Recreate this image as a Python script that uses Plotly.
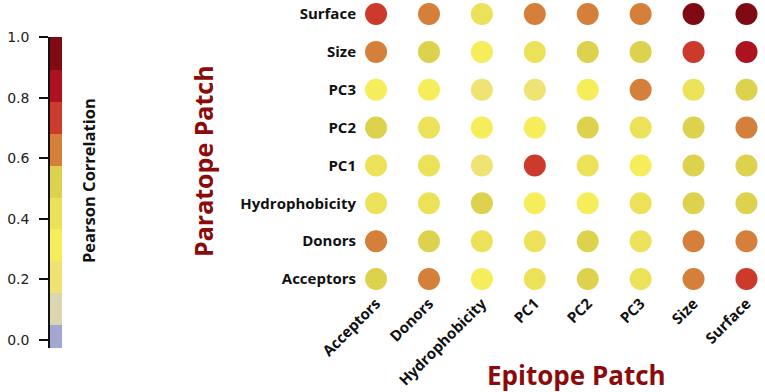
import plotly.graph_objects as go

W, H = 765, 392

epitope = ["Acceptors", "Donors", "Hydrophobicity", "PC1", "PC2", "PC3", "Size", "Surface"]
paratope = ["Acceptors", "Donors", "Hydrophobicity", "PC1", "PC2", "PC3", "Size", "Surface"]

# rows = paratope feature, columns = epitope feature (same order as `epitope`)
r_surface = [0.74, 0.63, 0.42, 0.64, 0.62, 0.63, 0.94, 0.93]
r_size = [0.64, 0.52, 0.32, 0.43, 0.53, 0.49, 0.73, 0.84]
r_pc3 = [0.33, 0.34, 0.24, 0.23, 0.31, 0.65, 0.42, 0.51]
r_pc2 = [0.52, 0.43, 0.33, 0.32, 0.54, 0.41, 0.50, 0.64]
r_pc1 = [0.41, 0.44, 0.22, 0.75, 0.43, 0.31, 0.51, 0.52]
r_hydro = [0.42, 0.43, 0.53, 0.33, 0.32, 0.44, 0.51, 0.50]
r_donors = [0.63, 0.52, 0.42, 0.43, 0.53, 0.41, 0.64, 0.62]
r_acceptors = [0.53, 0.64, 0.32, 0.44, 0.54, 0.43, 0.63, 0.76]

rows = {
    "Acceptors": r_acceptors,
    "Donors": r_donors,
    "Hydrophobicity": r_hydro,
    "PC1": r_pc1,
    "PC2": r_pc2,
    "PC3": r_pc3,
    "Size": r_size,
    "Surface": r_surface,
}

bin_edges = [-0.05, 0.05, 0.155, 0.26, 0.365, 0.47, 0.575, 0.68, 0.785, 0.89, 1.0]
bin_colors = ["#a3a6d0", "#dcd6b0", "#efe374", "#f6ed5a", "#ece259", "#dcd24e",
              "#d4803a", "#cc3a2b", "#ad1220", "#800a14"]
cbar_ticks = [0.0, 0.2, 0.4, 0.6, 0.8, 1.0]
cbar_ticktext = ["0.0", "0.2", "0.4", "0.6", "0.8", "1.0"]

cmin, cmax = bin_edges[0], bin_edges[-1]
colorscale = []
for i, c in enumerate(bin_colors):
    colorscale.append([(bin_edges[i] - cmin) / (cmax - cmin), c])
    colorscale.append([(bin_edges[i + 1] - cmin) / (cmax - cmin), c])

xs, ys, vs = [], [], []
for p in paratope:
    for j, e in enumerate(epitope):
        xs.append(e)
        ys.append(p)
        vs.append(rows[p][j])

fig = go.Figure()
fig.add_trace(go.Scatter(
    x=xs, y=ys, mode="markers",
    marker=dict(size=22, color=vs, colorscale=colorscale, cmin=cmin, cmax=cmax,
                showscale=False, line=dict(width=0)),
    xaxis="x", yaxis="y", hovertemplate="%{x} / %{y}: %{marker.color:.2f}<extra></extra>",
))

mids = [(bin_edges[i] + bin_edges[i + 1]) / 2 for i in range(len(bin_colors))]
fig.add_trace(go.Heatmap(
    x=[0, 1], y=bin_edges, z=[[m] for m in mids],
    colorscale=colorscale, zmin=cmin, zmax=cmax, showscale=False,
    xaxis="x2", yaxis="y2", hoverinfo="skip",
))

lab_font = dict(family="Open Sans", size=15, color="#111111", weight="bold")

fig.update_layout(
    width=W, height=H,
    margin=dict(l=0, r=0, t=0, b=0, autoexpand=False),
    paper_bgcolor="white", plot_bgcolor="white",
    showlegend=False,
    xaxis=dict(
        domain=[357 / W, 1.0], anchor="y", automargin=False,
        type="category", categoryorder="array", categoryarray=epitope,
        range=[-0.36, 7.35], showgrid=False, zeroline=False, showline=False,
        ticks="", tickangle=-45, tickfont=lab_font, ticklabelstandoff=-7,
    ),
    yaxis=dict(
        domain=[1 - 298 / H, 1.0], anchor="x", automargin=False,
        type="category", categoryorder="array", categoryarray=paratope,
        range=[-0.5, 7.37], showgrid=False, zeroline=False, showline=False,
        ticks="", tickfont=lab_font,
    ),
    xaxis2=dict(
        domain=[50 / W, 62 / W], anchor="y2", range=[0, 1], automargin=False,
        visible=False, fixedrange=True,
    ),
    yaxis2=dict(
        domain=[1 - 348 / H, 1 - 37 / H], anchor="x2", automargin=False,
        range=[-0.0264, 1.0], showgrid=False, zeroline=False,
        showline=True, linecolor="#111111", linewidth=1.5,
        ticks="outside", ticklen=9, tickwidth=1.5, tickcolor="#111111",
        tickvals=cbar_ticks, ticktext=cbar_ticktext, ticklabelstandoff=7,
        tickfont=dict(family="DejaVu Sans", size=14, color="#222222"),
    ),
    annotations=[
        dict(text="Paratope Patch", x=203 / W, y=1 - 161 / H, xref="paper", yref="paper",
             textangle=-90, showarrow=False, xanchor="center", yanchor="middle",
             font=dict(family="Open Sans", size=25, color="#8b0a0a", weight="bold")),
        dict(text="Epitope Patch", x=576 / W, y=1 - 375 / H, xref="paper", yref="paper",
             showarrow=False, xanchor="center", yanchor="middle",
             font=dict(family="Open Sans", size=26, color="#8b0a0a", weight="bold")),
        dict(text="Pearson Correlation", x=88 / W, y=1 - 181 / H, xref="paper", yref="paper",
             textangle=-90, showarrow=False, xanchor="center", yanchor="middle",
             font=dict(family="Open Sans", size=16.5, color="#111111", weight="bold")),
    ],
)

fig.write_html("out.html", config={"displayModeBar": False},
               post_script="document.body.style.margin='0';")
